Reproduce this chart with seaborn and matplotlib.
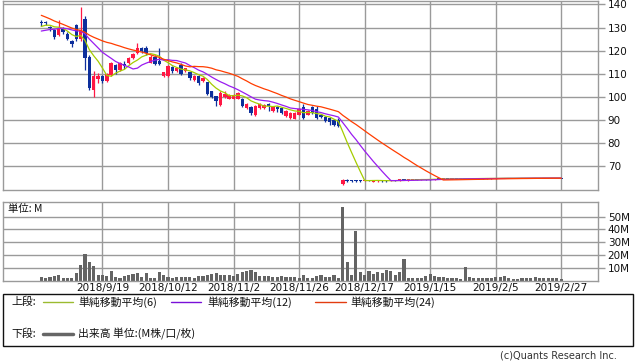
import numpy as np
import pandas as pd
import matplotlib
matplotlib.use("Agg")
import matplotlib.pyplot as plt
from matplotlib.patches import Rectangle
from matplotlib.lines import Line2D
import seaborn as sns

sns.set_theme(style="white")
plt.rcParams['font.family'] = ['DejaVu Sans', 'Noto Sans CJK JP']
JP = ['Noto Sans CJK JP', 'DejaVu Sans']

# ---------------- data ----------------
holidays = ['2018-09-17', '2018-09-24', '2018-10-08', '2018-11-23', '2018-12-24',
            '2018-12-31', '2019-01-01', '2019-01-02', '2019-01-03', '2019-01-14',
            '2019-02-11']
dates = pd.bdate_range('2018-08-29', '2019-02-27', freq='C', holidays=holidays)

opens = [132.1, 132.1, 130.2, 129.1, 126.7, 129.6, 127.4, 124.3, 131.0, 124.9,
         133.9, 117.4, 102.9, 107.7, 109.1, 107.1, 109.6, 113.9, 111.7, 114.3,
         114.6, 116.7, 118.9, 121.0, 121.3, 114.9, 117.1, 115.6, 108.9, 108.9,
         113.1, 111.3, 113.9, 111.3, 110.6, 107.4, 109.1, 106.7, 106.3, 102.4,
         100.3, 96.7, 100.0, 99.3, 99.3, 99.3, 99.1, 95.3, 95.7, 92.0,
         95.3, 95.3, 97.1, 93.9, 95.7, 95.3, 91.7, 91.0, 90.7, 92.4,
         95.7, 92.4, 95.7, 94.6, 92.4, 91.4, 91.0, 90.0, 90.0, 62.6,
         64.0, 63.9, 63.9, 63.9, 63.8, 63.9, 63.4, 63.5, 64.1, 64.0,
         63.7, 63.9, 64.0, 64.5, 64.1, 64.2, 64.3, 64.2, 64.5, 64.5,
         64.4, 64.6, 64.5, 64.7, 64.6, 64.7, 64.6, 64.9, 64.7, 64.8,
         64.7, 64.8, 64.8, 64.9, 64.8, 64.9, 64.9, 65.0, 64.9, 64.9,
         64.9, 65.0, 64.9, 65.0, 65.0, 64.9, 65.0, 65.0, 65.0, 65.0]
highs = [133.4, 133.0, 130.6, 129.5, 133.1, 130.3, 128.0, 124.6, 131.4, 139.1,
         135.0, 118.0, 111.4, 110.3, 109.5, 110.3, 115.3, 114.3, 115.0, 115.4,
         117.4, 119.0, 123.4, 121.7, 122.0, 118.0, 118.1, 121.0, 111.0, 114.0,
         113.4, 112.8, 114.6, 112.7, 111.0, 109.4, 109.4, 108.7, 106.6, 102.7,
         100.6, 102.4, 102.4, 101.4, 101.4, 102.1, 99.5, 97.5, 96.0, 96.6,
         97.4, 97.0, 97.5, 96.3, 96.0, 95.6, 94.2, 93.4, 93.4, 95.2,
         97.1, 94.4, 96.3, 96.3, 92.8, 91.8, 91.3, 90.3, 91.0, 64.4,
         64.5, 64.0, 64.0, 64.0, 64.0, 64.0, 64.3, 64.3, 64.2, 64.1,
         64.0, 64.0, 64.6, 64.6, 64.4, 64.4, 64.5, 64.6, 64.6, 64.6,
         64.7, 64.7, 64.8, 64.8, 64.8, 64.8, 64.9, 65.0, 64.9, 64.9,
         64.9, 64.9, 65.0, 65.0, 65.0, 65.0, 65.1, 65.1, 65.0, 65.0,
         65.1, 65.1, 65.1, 65.1, 65.1, 65.1, 65.1, 65.1, 65.1, 65.1]
lows = [130.6, 131.2, 128.6, 124.9, 126.2, 127.4, 124.5, 121.7, 124.0, 124.0,
        111.7, 103.0, 100.0, 106.0, 106.0, 106.5, 109.2, 110.0, 111.4, 112.0,
        114.2, 116.4, 118.6, 119.0, 118.0, 114.5, 114.0, 114.0, 108.5, 108.6,
        110.5, 111.0, 109.6, 111.0, 107.5, 107.1, 105.3, 106.4, 101.0, 99.6,
        96.3, 96.0, 99.5, 99.0, 99.0, 99.0, 95.5, 95.0, 92.4, 91.8,
        95.0, 95.0, 93.9, 93.6, 93.4, 92.8, 91.4, 90.7, 90.4, 92.0,
        90.6, 92.0, 92.8, 90.6, 91.0, 89.2, 88.0, 87.4, 87.0, 61.8,
        63.3, 63.2, 63.3, 63.3, 63.5, 63.6, 63.3, 63.4, 63.3, 63.4,
        63.6, 63.7, 63.9, 64.0, 63.9, 64.0, 64.0, 64.2, 64.3, 64.2,
        64.3, 64.4, 64.4, 64.5, 64.5, 64.5, 64.5, 64.6, 64.6, 64.6,
        64.6, 64.7, 64.7, 64.7, 64.7, 64.8, 64.8, 64.8, 64.8, 64.8,
        64.8, 64.8, 64.8, 64.9, 64.8, 64.8, 64.9, 64.9, 64.9, 64.8]
closes = [132.0, 132.0, 130.0, 126.0, 129.9, 127.9, 124.9, 123.1, 124.9, 129.1,
          116.7, 103.9, 109.1, 109.1, 107.1, 110.0, 114.6, 111.7, 114.6, 113.4,
          116.7, 118.4, 121.0, 120.0, 118.9, 117.4, 114.3, 114.3, 110.6, 113.6,
          111.3, 112.4, 110.0, 112.4, 108.0, 109.1, 106.0, 108.4, 101.4, 100.0,
          98.1, 101.7, 101.3, 101.0, 101.0, 101.7, 96.0, 97.1, 93.1, 96.3,
          97.0, 96.7, 96.0, 96.0, 94.6, 93.1, 93.9, 93.1, 93.1, 94.9,
          91.0, 94.1, 93.1, 91.0, 91.4, 89.6, 89.1, 88.1, 87.4, 64.0,
          63.9, 63.9, 63.9, 63.8, 63.9, 63.8, 64.1, 64.1, 63.5, 63.6,
          63.9, 63.9, 64.5, 64.1, 64.2, 64.3, 64.3, 64.5, 64.5, 64.4,
          64.6, 64.6, 64.7, 64.7, 64.7, 64.6, 64.8, 64.7, 64.8, 64.7,
          64.8, 64.8, 64.9, 64.8, 64.9, 64.9, 65.0, 64.9, 64.9, 64.9,
          65.0, 64.9, 65.0, 65.0, 64.9, 65.0, 65.0, 65.0, 65.0, 64.9]
# closes of the sessions before the visible window (feed the moving averages)
prior_closes = [150, 149, 148, 147, 146, 144, 142, 140, 138, 136, 134, 131,
                128, 126, 125, 125, 127, 128, 129, 130, 130, 131, 131]
volume_m = [2.6, 2.3, 2.6, 3.6, 4.4, 2.3, 2.3, 2.3, 5.7, 12.2,
            20.5, 14.3, 11.4, 4.4, 4.4, 3.9, 7.5, 2.6, 2.3, 3.6,
            4.4, 4.9, 5.5, 3.1, 5.7, 2.3, 2.3, 6.5, 4.4, 3.1,
            2.3, 2.9, 2.9, 2.9, 2.9, 2.3, 3.9, 3.9, 4.4, 4.9,
            5.7, 4.4, 4.4, 4.4, 3.9, 4.9, 6.5, 7.5, 8.1, 6.5,
            3.9, 3.4, 3.4, 3.1, 2.6, 3.6, 3.1, 2.9, 2.9, 2.3,
            4.4, 2.3, 2.3, 3.9, 4.4, 3.1, 3.1, 4.4, 2.3, 57.7,
            14.8, 4.4, 38.7, 7.0, 4.4, 7.5, 4.9, 7.0, 5.7, 8.3,
            7.5, 4.4, 7.0, 16.9, 1.8, 1.8, 1.8, 1.8, 3.9, 5.2,
            3.9, 3.1, 2.6, 2.3, 1.8, 1.8, 1.3, 10.9, 3.1, 1.8,
            1.8, 1.8, 1.8, 1.8, 3.1, 3.1, 3.9, 2.3, 1.3, 1.3,
            1.8, 1.8, 2.3, 3.1, 2.3, 1.8, 1.8, 1.8, 1.8, 1.3]
ma_windows = [6, 12, 24]
price_ticks = [70, 80, 90, 100, 110, 120, 130, 140]
volume_ticks = [10, 20, 30, 40, 50]
date_tick_labels = ['2018/9/19', '2018/10/12', '2018/11/2', '2018/11/26',
                    '2018/12/17', '2019/1/15', '2019/2/5', '2019/2/27']

# ---------------- styling ----------------
RED = '#ff1744'
BLUE = '#0d2f9c'
MA_COLORS = {6: '#a5cc00', 12: '#9a1cf0', 24: '#ff3d00'}
LEG_COLORS = {6: '#9bbb30', 12: '#7a10d8', 24: '#e23c10'}
GRID = '#9a9a9a'
W, H = 638, 362

def rect(l, t, r, b):
    return [l / W, 1 - b / H, (r - l) / W, (b - t) / H]

fig = plt.figure(figsize=(W / 100, H / 100), dpi=100)
ax1 = fig.add_axes(rect(3, 0.5, 598, 190))
ax2 = fig.add_axes(rect(3, 202, 598, 280.5))

idx = np.arange(len(dates))
o = np.array(opens); h = np.array(highs); l = np.array(lows); c = np.array(closes)
vol = np.array(volume_m)
up = c > o
cols = np.where(up, RED, BLUE)

# tick positions from dates
date_objs = [pd.Timestamp(s.replace('/', '-')) for s in date_tick_labels]
tick_pos = [int(np.where(dates == d)[0][0]) for d in date_objs]

xlim = (-8.76, 127.4)

for ax in (ax1, ax2):
    ax.set_facecolor('white')
    ax.set_xlim(*xlim)
    ax.set_xticks(tick_pos)
    ax.grid(True, color=GRID, lw=1.0)
    ax.set_axisbelow(True)
    for sp in ax.spines.values():
        sp.set_color(GRID)
        sp.set_linewidth(1.0)

# ---- price panel ----
ax1.vlines(idx, l, h, colors=cols, lw=0.9, zorder=2)
body_h = np.maximum(np.abs(c - o), 0.4)
body_b = (o + c) / 2 - body_h / 2
ax1.bar(idx, body_h, bottom=body_b, width=0.78, color=cols, linewidth=0, zorder=2)

full_close = pd.Series(list(prior_closes) + list(closes))
for n in ma_windows:
    ma = full_close.rolling(n).mean().iloc[len(prior_closes):].to_numpy()
    sns.lineplot(x=idx, y=ma, ax=ax1, color=MA_COLORS[n], lw=0.9, zorder=3,
                 legend=False, errorbar=None)

ax1.set_ylim(59.8, 141.7)
ax1.set_yticks(price_ticks)
ax1.yaxis.tick_right()
ax1.tick_params(axis='y', right=True, left=False, length=5, width=1, color=GRID,
                labelsize=7.5, pad=2, labelcolor='#111111')
ax1.tick_params(axis='x', length=0, labelbottom=False)
ax1.set_xlabel(''); ax1.set_ylabel('')

# ---- volume panel ----
ax2.bar(idx, vol, width=0.72, color='#646464', linewidth=0, zorder=2)
ax2.set_ylim(0, 61.5)
ax2.set_yticks(volume_ticks)
ax2.set_yticklabels([f'{v}M' for v in volume_ticks])
ax2.yaxis.tick_right()
ax2.tick_params(axis='y', right=True, left=False, length=5, width=1, color=GRID,
                labelsize=7.5, pad=2, labelcolor='#111111')
ax2.set_xticklabels(date_tick_labels)
ax2.tick_params(axis='x', length=0, labelsize=7.5, pad=1.5, labelcolor='#111111')
ax2.set_xlabel(''); ax2.set_ylabel('')

fig.text(8 / W, 1 - 209 / H, '単位: M', family=JP, fontsize=7.5, va='center',
         ha='left', color='#111111')

# ---- legend box ----
fig.patches.append(Rectangle((3 / W, 1 - 346 / H), 630 / W, 52 / H,
                             transform=fig.transFigure, fill=False,
                             edgecolor='#111111', lw=1.0))
row1 = 1 - 302 / H
row2 = 1 - 334 / H
LFS = 7.8
fig.text(11 / W, row1, '上段:', family=JP, fontsize=LFS, va='center', color='#111111')
seg = [(43, 73, 78), (171, 201, 207), (315, 346, 350)]
for n, (x0, x1, xt) in zip(ma_windows, seg):
    fig.lines.append(Line2D([x0 / W, x1 / W], [row1, row1], transform=fig.transFigure,
                            color=LEG_COLORS[n], lw=1.0))
    fig.text(xt / W, row1, f'単純移動平均({n})', family=JP, fontsize=LFS, va='center',
             color='#111111')
fig.text(11 / W, row2, '下段:', family=JP, fontsize=LFS, va='center', color='#111111')
fig.lines.append(Line2D([43 / W, 73 / W], [row2, row2], transform=fig.transFigure,
                        color='#666666', lw=2.5))
fig.text(78 / W, row2, '出来高 単位:(M株/口/枚)', family=JP, fontsize=LFS, va='center',
         color='#111111')

fig.text(617 / W, 1 - 355 / H, '(c)Quants Research Inc.', fontsize=7, ha='right',
         va='center', color='#333333')

fig.savefig('out.png', dpi=100)
